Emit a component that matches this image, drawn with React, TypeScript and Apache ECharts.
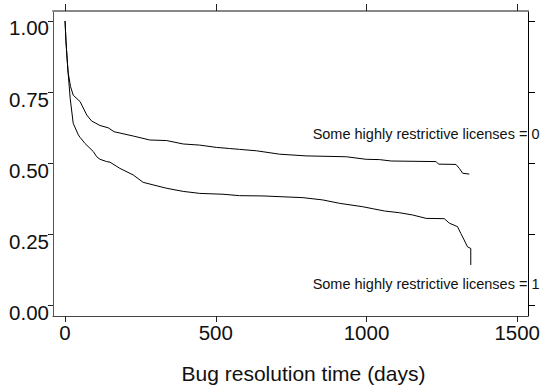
import React, { useEffect, useRef } from "react";
import * as echarts from "echarts";

const xTicks = [0, 500, 1000, 1500];
const yTicks = [0, 0.25, 0.5, 0.75, 1];

const group0X = [0, 3, 6, 10, 18, 27, 50, 72, 88, 116, 143, 163, 226, 281, 337, 392, 447, 502, 546, 579, 635, 712, 800, 933, 999, 1043, 1082, 1231, 1239, 1297, 1308, 1319, 1341];
const group0Y = [1.0, 0.93, 0.88, 0.82, 0.77, 0.739, 0.716, 0.669, 0.648, 0.632, 0.624, 0.61, 0.595, 0.581, 0.579, 0.567, 0.563, 0.555, 0.551, 0.548, 0.543, 0.531, 0.525, 0.522, 0.513, 0.512, 0.507, 0.505, 0.496, 0.495, 0.481, 0.464, 0.461];

const group1X = [0, 3, 6, 10, 17, 27, 44, 50, 66, 94, 105, 116, 138, 149, 182, 226, 259, 292, 337, 392, 447, 524, 579, 657, 789, 855, 911, 988, 1021, 1060, 1109, 1153, 1198, 1258, 1275, 1302, 1313, 1324, 1335, 1346, 1346];
const group1Y = [1.0, 0.93, 0.88, 0.82, 0.728, 0.64, 0.599, 0.59, 0.569, 0.54, 0.522, 0.513, 0.505, 0.503, 0.481, 0.458, 0.432, 0.423, 0.411, 0.4, 0.393, 0.39, 0.385, 0.384, 0.378, 0.37, 0.358, 0.346, 0.339, 0.331, 0.325, 0.317, 0.305, 0.304, 0.288, 0.276, 0.252, 0.229, 0.205, 0.199, 0.141];

const label0 = "Some highly restrictive licenses = 0";
const label1 = "Some highly restrictive licenses = 1";
const xTitle = "Bug resolution time (days)";

const FONT = "Liberation Sans, Arial, sans-serif";

export default function App() {
  const ref = useRef<HTMLDivElement>(null);
  useEffect(() => {
    if (!ref.current) return;
    const chart = echarts.init(ref.current, null, { renderer: "svg" });
    const pts = (xs: number[], ys: number[]) => xs.map((x, i) => [x, ys[i]]);
    chart.setOption({
      animation: false,
      grid: { left: 53, right: 14, top: 11, bottom: 69 },
      xAxis: [
        {
          type: "value",
          position: "bottom",
          min: -40,
          max: 1536,
          splitLine: { show: false },
          axisLine: { show: true, onZero: false, lineStyle: { color: "#444", width: 1 } },
          axisTick: { show: true, length: 6, customValues: xTicks, lineStyle: { color: "#222" } },
          axisLabel: {
            customValues: xTicks,
            formatter: (v: number) => String(v),
            fontFamily: FONT,
            fontSize: 20.5,
            color: "#111",
            margin: 6,
          },
        },
        {
          type: "value",
          position: "top",
          min: -40,
          max: 1536,
          splitLine: { show: false },
          axisLine: { show: true, onZero: false, lineStyle: { color: "#888", width: 2 } },
          axisTick: { show: true, length: 7, customValues: xTicks, lineStyle: { color: "#222" } },
          axisLabel: { show: false },
        },
      ],
      yAxis: [
        {
          type: "value",
          position: "left",
          min: -0.0387,
          max: 1.0352,
          splitLine: { show: false },
          axisLine: { show: true, onZero: false, lineStyle: { color: "#555", width: 1 } },
          axisTick: { show: true, length: 5, customValues: yTicks, lineStyle: { color: "#222" } },
          axisLabel: {
            customValues: yTicks,
            formatter: (v: number) => v.toFixed(2),
            fontFamily: FONT,
            fontSize: 20.5,
            color: "#111",
            margin: 4,
            verticalAlign: "top",
            lineHeight: 14,
          },
        },
        {
          type: "value",
          position: "right",
          min: -0.0387,
          max: 1.0352,
          splitLine: { show: false },
          axisLine: { show: true, onZero: false, lineStyle: { color: "#000", width: 1 } },
          axisTick: { show: true, length: 7, customValues: yTicks, lineStyle: { color: "#000" } },
          axisLabel: { show: false },
        },
      ],
      series: [
        {
          type: "line",
          xAxisIndex: 0,
          yAxisIndex: 0,
          data: pts(group0X, group0Y),
          showSymbol: false,
          symbol: "none",
          lineStyle: { color: "#000", width: 1 },
        },
        {
          type: "line",
          xAxisIndex: 0,
          yAxisIndex: 0,
          data: pts(group1X, group1Y),
          showSymbol: false,
          symbol: "none",
          lineStyle: { color: "#000", width: 1 },
        },
      ],
      graphic: [
        {
          type: "text",
          z: -1,
          x: 539.5,
          y: 134,
          style: { text: label0, fontFamily: FONT, fontSize: 14.5, fill: "#111", align: "right", verticalAlign: "middle" },
        },
        {
          type: "text",
          z: -1,
          x: 539.5,
          y: 284,
          style: { text: label1, fontFamily: FONT, fontSize: 14.5, fill: "#111", align: "right", verticalAlign: "middle" },
        },
        {
          type: "text",
          x: 303.5,
          y: 373,
          style: { text: xTitle, fontFamily: FONT, fontSize: 21, fill: "#111", align: "center", verticalAlign: "middle" },
        },
      ],
    });
    return () => chart.dispose();
  }, []);
  return <div ref={ref} style={{ width: 543, height: 385, position: "absolute", left: 0, top: 0 }} />;
}
